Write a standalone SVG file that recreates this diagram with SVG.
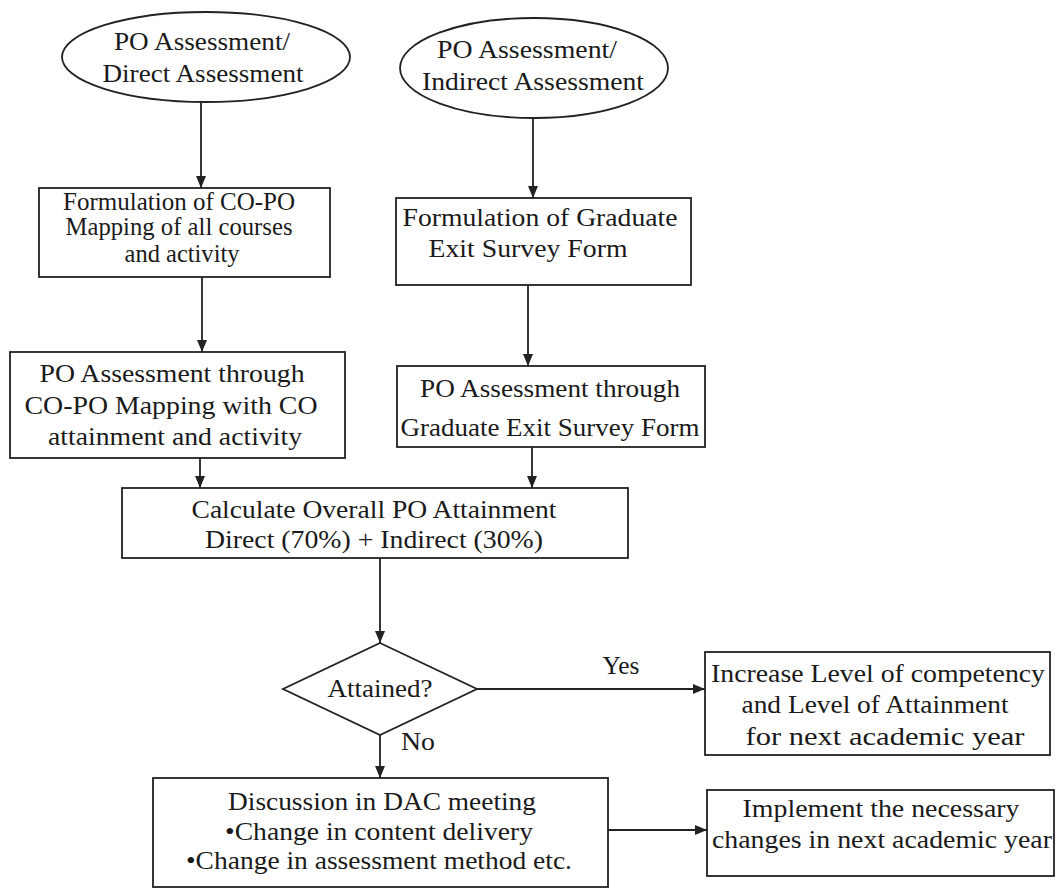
<svg xmlns="http://www.w3.org/2000/svg" width="1058" height="890" viewBox="0 0 1058 890">
<style>
.s{fill:#fff;stroke:#222;stroke-width:1.8}
.t{font-family:'Liberation Serif',Tinos,'Times New Roman',Times,serif;font-size:25px;fill:#1a1a1a;text-anchor:middle}
.c{stroke:#222;stroke-width:1.8;fill:none;marker-end:url(#ah)}
</style>
<defs>
<marker id="ah" markerUnits="userSpaceOnUse" markerWidth="12" markerHeight="12" viewBox="0 0 12 12" refX="12" refY="6" orient="auto">
<path d="M0,1 L12,6 L0,11 Z" fill="#222"/>
</marker>
</defs>
<rect width="1058" height="890" fill="#fff"/>
<g id="connectors">
<line class="c" x1="201" y1="102" x2="201" y2="188"/>
<line class="c" x1="533" y1="118" x2="533" y2="198"/>
<line class="c" x1="202" y1="277" x2="202" y2="352"/>
<line class="c" x1="528" y1="285" x2="528" y2="366"/>
<line class="c" x1="200" y1="458" x2="200" y2="488"/>
<line class="c" x1="532" y1="447" x2="532" y2="488"/>
<line class="c" x1="380" y1="558" x2="380" y2="643"/>
<line class="c" x1="477" y1="689" x2="705" y2="689"/>
<line class="c" x1="380" y1="735" x2="380" y2="778"/>
<line class="c" x1="608" y1="830" x2="707" y2="830"/>
<text class="t" x="621" y="674" textLength="37" lengthAdjust="spacingAndGlyphs">Yes</text>
<text class="t" x="418" y="750" textLength="34" lengthAdjust="spacingAndGlyphs">No</text>
</g>
<g id="n1">
<ellipse class="s" cx="206" cy="57" rx="144" ry="45"/>
<text class="t" x="202" y="50" textLength="176" lengthAdjust="spacingAndGlyphs">PO Assessment/</text>
<text class="t" x="203" y="82" textLength="201" lengthAdjust="spacingAndGlyphs">Direct Assessment</text>
</g>
<g id="n2">
<ellipse class="s" cx="534" cy="68" rx="134" ry="50"/>
<text class="t" x="527" y="58" textLength="180" lengthAdjust="spacingAndGlyphs">PO Assessment/</text>
<text class="t" x="533" y="90" textLength="222" lengthAdjust="spacingAndGlyphs">Indirect Assessment</text>
</g>
<g id="n3">
<rect class="s" x="39" y="188" width="291" height="89"/>
<text class="t" x="179" y="210" textLength="232" lengthAdjust="spacingAndGlyphs">Formulation of CO-PO</text>
<text class="t" x="179" y="235" textLength="227" lengthAdjust="spacingAndGlyphs">Mapping of all courses</text>
<text class="t" x="182" y="262" textLength="115" lengthAdjust="spacingAndGlyphs">and activity</text>
</g>
<g id="n4">
<rect class="s" x="396" y="198" width="295" height="87"/>
<text class="t" x="540" y="226" textLength="275" lengthAdjust="spacingAndGlyphs">Formulation of Graduate</text>
<text class="t" x="528" y="257" textLength="199" lengthAdjust="spacingAndGlyphs">Exit Survey Form</text>
</g>
<g id="n5">
<rect class="s" x="10" y="352" width="335" height="106"/>
<text class="t" x="172" y="382" textLength="265" lengthAdjust="spacingAndGlyphs">PO Assessment through</text>
<text class="t" x="171" y="414" textLength="293" lengthAdjust="spacingAndGlyphs">CO-PO Mapping with CO</text>
<text class="t" x="175" y="445" textLength="254" lengthAdjust="spacingAndGlyphs">attainment and activity</text>
</g>
<g id="n6">
<rect class="s" x="397" y="366" width="308" height="81"/>
<text class="t" x="550" y="397" textLength="260" lengthAdjust="spacingAndGlyphs">PO Assessment through</text>
<text class="t" x="550" y="436" textLength="299" lengthAdjust="spacingAndGlyphs">Graduate Exit Survey Form</text>
</g>
<g id="n7">
<rect class="s" x="122" y="488" width="506" height="70"/>
<text class="t" x="374" y="518" textLength="365" lengthAdjust="spacingAndGlyphs">Calculate Overall PO Attainment</text>
<text class="t" x="374" y="548" textLength="338" lengthAdjust="spacingAndGlyphs">Direct (70%) + Indirect (30%)</text>
</g>
<g id="n8">
<polygon class="s" points="380,643 477,689 380,735 283,689"/>
<text class="t" x="380" y="697" textLength="105" lengthAdjust="spacingAndGlyphs">Attained?</text>
</g>
<g id="n9">
<rect class="s" x="705" y="652" width="345" height="103"/>
<text class="t" x="878" y="682" textLength="334" lengthAdjust="spacingAndGlyphs">Increase Level of competency</text>
<text class="t" x="875" y="713" textLength="267" lengthAdjust="spacingAndGlyphs">and Level of Attainment</text>
<text class="t" x="885" y="745" textLength="279" lengthAdjust="spacingAndGlyphs">for next academic year</text>
</g>
<g id="n10">
<rect class="s" x="153" y="778" width="455" height="109"/>
<text class="t" x="382" y="810" textLength="308" lengthAdjust="spacingAndGlyphs">Discussion in DAC meeting</text>
<text class="t" x="379" y="840" textLength="308" lengthAdjust="spacingAndGlyphs">•Change in content delivery</text>
<text class="t" x="379" y="869" textLength="386" lengthAdjust="spacingAndGlyphs">•Change in assessment method etc.</text>
</g>
<g id="n11">
<rect class="s" x="707" y="790" width="347" height="86"/>
<text class="t" x="881" y="817" textLength="277" lengthAdjust="spacingAndGlyphs">Implement the necessary</text>
<text class="t" x="882" y="848" textLength="340" lengthAdjust="spacingAndGlyphs">changes in next academic year</text>
</g>
</svg>
